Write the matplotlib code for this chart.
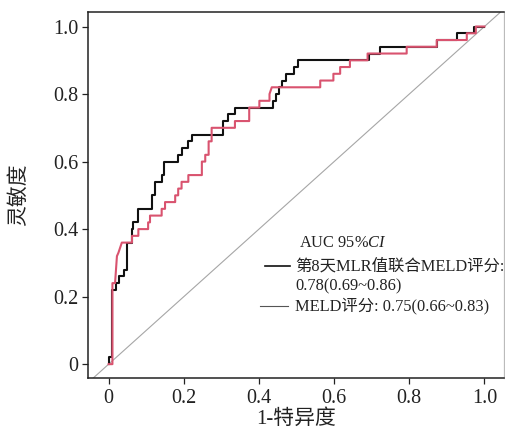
import matplotlib
matplotlib.use("Agg")
import matplotlib.pyplot as plt
from matplotlib.lines import Line2D

plt.rcParams['font.family'] = ['Liberation Serif', 'Noto Sans CJK SC']
plt.rcParams['mathtext.fontset'] = 'custom'
plt.rcParams['mathtext.rm'] = 'Liberation Serif'
plt.rcParams['mathtext.it'] = 'Liberation Serif:italic'

# ROC curve vertices (1-specificity, sensitivity)
combo_fpr = [0, 0, 0.008, 0.008, 0.019, 0.019, 0.027, 0.027, 0.041, 0.041, 0.048, 0.048,
             0.061, 0.061, 0.066, 0.066, 0.079, 0.079, 0.114, 0.114, 0.123, 0.123, 0.141, 0.141,
             0.147, 0.147, 0.185, 0.185, 0.194, 0.194, 0.212, 0.212, 0.221, 0.221, 0.304, 0.304,
             0.318, 0.318, 0.337, 0.337, 0.437, 0.437, 0.445, 0.445, 0.453, 0.453, 0.462, 0.462,
             0.472, 0.472, 0.492, 0.492, 0.503, 0.503, 0.694, 0.694, 0.722, 0.722, 0.873, 0.873,
             0.926, 0.926, 0.971, 0.971, 1.0]
combo_tpr = [0, 0.02, 0.02, 0.22, 0.22, 0.24, 0.24, 0.26, 0.26, 0.28, 0.28, 0.36,
             0.36, 0.40, 0.40, 0.42, 0.42, 0.46, 0.46, 0.50, 0.50, 0.54, 0.54, 0.56,
             0.56, 0.60, 0.60, 0.62, 0.62, 0.64, 0.64, 0.66, 0.66, 0.68, 0.68, 0.72,
             0.72, 0.74, 0.74, 0.76, 0.76, 0.78, 0.78, 0.80, 0.80, 0.82, 0.82, 0.84,
             0.84, 0.86, 0.86, 0.88, 0.88, 0.90, 0.90, 0.92, 0.92, 0.94, 0.94, 0.96,
             0.96, 0.98, 0.98, 1.0, 1.0]

meld_fpr = [0, 0.01, 0.01, 0.017, 0.022, 0.026, 0.035, 0.062, 0.062, 0.079, 0.079, 0.105,
            0.105, 0.110, 0.110, 0.141, 0.141, 0.150, 0.150, 0.177, 0.177, 0.185, 0.185, 0.194,
            0.194, 0.212, 0.212, 0.248, 0.248, 0.257, 0.257, 0.266, 0.266, 0.274, 0.274, 0.336,
            0.336, 0.374, 0.374, 0.401, 0.401, 0.428, 0.428, 0.434, 0.563, 0.563, 0.598, 0.598,
            0.616, 0.616, 0.642, 0.642, 0.689, 0.689, 0.793, 0.793, 0.873, 0.873, 0.953, 0.953,
            0.977, 0.977, 1.0]
meld_tpr = [0, 0, 0.24, 0.24, 0.32, 0.33, 0.36, 0.36, 0.38, 0.38, 0.40, 0.40,
            0.42, 0.42, 0.44, 0.44, 0.46, 0.46, 0.48, 0.48, 0.50, 0.50, 0.52, 0.52,
            0.54, 0.54, 0.56, 0.56, 0.60, 0.60, 0.62, 0.62, 0.66, 0.66, 0.70, 0.70,
            0.72, 0.72, 0.76, 0.76, 0.78, 0.78, 0.80, 0.82, 0.82, 0.84, 0.84, 0.86,
            0.86, 0.88, 0.88, 0.90, 0.90, 0.92, 0.92, 0.94, 0.94, 0.96, 0.96, 0.98,
            0.98, 1.0, 1.0]

ticks = [0, 0.2, 0.4, 0.6, 0.8, 1.0]
tick_labels = ['0', '0.2', '0.4', '0.6', '0.8', '1.0']

legend_title = r'AUC 95%$\mathit{CI}$'
combo_label_1 = '第8天MLR值联合MELD评分:'
combo_label_2 = '0.78(0.69~0.86)'
meld_label = 'MELD评分: 0.75(0.66~0.83)'

fig = plt.figure(figsize=(5.05, 4.30), dpi=100)
ax = fig.add_axes([88 / 505, 52 / 430, 416 / 505, 366 / 430])

xlim = (-0.055, 1.052)
ylim = (-0.041, 1.043)
ax.set_xlim(*xlim)
ax.set_ylim(*ylim)

ax.plot([-0.1, 1.1], [-0.1, 1.1], color='#a6a6a6', lw=0.8, zorder=1)
ax.plot(combo_fpr, combo_tpr, color='#111111', lw=1.5, zorder=2)
ax.plot(meld_fpr, meld_tpr, color='#d9536f', lw=1.5, zorder=3)

ax.set_xticks(ticks)
ax.set_xticklabels(tick_labels)
ax.set_yticks(ticks)
ax.set_yticklabels(tick_labels)
ax.tick_params(direction='out', length=4, width=0.9, labelsize=14.5, pad=3, colors='#222222')
ax.tick_params(axis='x', pad=4)

for s in ['left', 'bottom', 'top']:
    ax.spines[s].set_linewidth(1.1)
    ax.spines[s].set_color('#222222')
ax.spines['right'].set_linewidth(0.9)
ax.spines['right'].set_color('#bbbbbb')

ax.set_xlabel('1-特异度', fontsize=15, labelpad=1, color='#222222')
ax.set_ylabel('灵敏度', fontsize=15, labelpad=17, color='#222222')

# manual legend
tr = ax.transAxes
def fx(px):
    return (px - 88) / 416
def fy(py):
    return (378 - py) / 366

lfs = 11.8
ax.text(fx(299), fy(243), legend_title, transform=tr, fontsize=lfs, va='center', ha='left', color='#222222')
ax.add_line(Line2D([fx(265), fx(290)], [fy(266), fy(266)], transform=tr, color='#111111', lw=1.2))
ax.text(fx(295), fy(266), combo_label_1, transform=tr, fontsize=lfs, va='center', ha='left', color='#222222')
ax.text(fx(295), fy(286), combo_label_2, transform=tr, fontsize=lfs, va='center', ha='left', color='#222222')
ax.add_line(Line2D([fx(260), fx(288)], [fy(306), fy(306)], transform=tr, color='#555555', lw=0.8))
ax.text(fx(295), fy(306), meld_label, transform=tr, fontsize=lfs, va='center', ha='left', color='#222222')

fig.savefig('out.png', dpi=100)
